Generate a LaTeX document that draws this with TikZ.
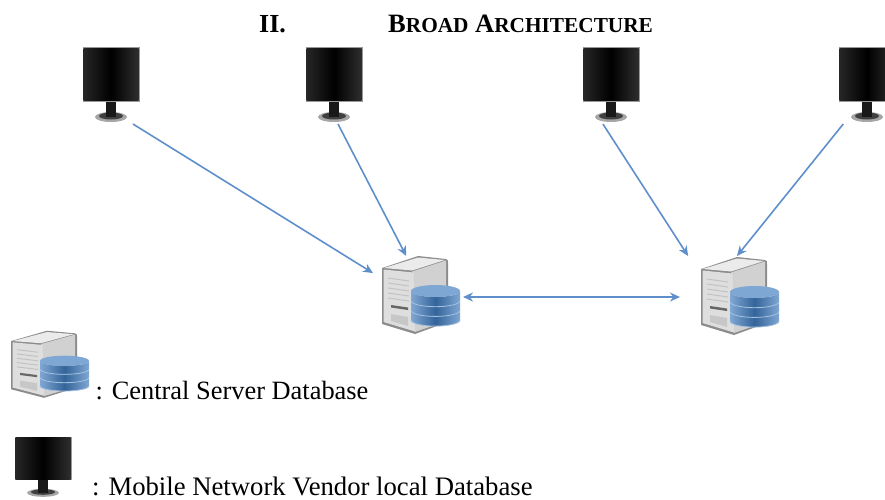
\documentclass[tikz,border=0pt]{standalone}
\usepackage{fontspec}
\setmainfont{Liberation Serif}
\usetikzlibrary{arrows.meta}

\definecolor{linkblue}{HTML}{5E8FCB}
\definecolor{discdark}{HTML}{34649A}
\definecolor{disclight}{HTML}{7FA7D3}

\tikzset{
  vendorbox/.style = {inner sep=0pt, outer sep=0pt, minimum width=56pt, minimum height=76pt},
  serverbox/.style = {inner sep=0pt, outer sep=0pt, minimum height=82pt},
  link/.style = {draw=linkblue, line width=1.6pt, >={Stealth[length=10pt,width=9pt]}},
  legendtext/.style = {anchor=base west, inner sep=0pt, font=\fontsize{26.4}{26.4}\selectfont},
  monitor/.pic = {
    % foot and neck
    \fill[black!35] (-16,31) arc (180:0:16 and 5) arc (0:-180:16 and 5);
    \fill[black!75] (-12,30) arc (180:0:12 and 3.5) arc (0:-180:12 and 3.5);
    \fill[black!90] (-5,15) rectangle (5,31);
    % screen
    \fill[black!40] (-28.5,-39) rectangle (28.5,15.5);
    \shade[left color=black!85, right color=black!82, middle color=black] (-27.5,-38) rectangle (27.5,14);
  },
  dbserver/.pic = {
    % case
    \fill[black!45] (-36,-29) -- (0,-41) -- (28,-38) .. controls (30,-38) and (30,-36) .. (30,-34)
      -- (30,25) -- (-3,37) -- (-36,27) -- cycle;
    \fill[black!18] (-6,-25.5) -- (28,-36.5) -- (28.5,24) -- (-3,35) -- cycle;
    \fill[black!8] (-34,-29) -- (0,-39.5) -- (27,-37) -- (-6,-26.5) -- cycle;
    \fill[black!13] (-34.5,-27.5) -- (-4.5,-24.5) -- (-3,34.5) -- (-34.5,25) -- cycle;
    % vents and drive slot
    \foreach \v in {-18,-13,-8,-3,2}
      \draw[black!24, line width=1pt] (-30,\v-1) -- (-9,\v+2);
    \fill[black!60] (-27,8) -- (-10,10.5) -- (-10,13) -- (-27,10.5) -- cycle;
    \fill[black!22] (-27,17) -- (-10,20) -- (-10,29) -- (-27,24) -- cycle;
    % three discs
    \foreach \d in {13.4,3.7,-6}{
      \shade[left color=disclight, right color=disclight, middle color=discdark]
        (-7,\d) arc (180:0:24.5 and 6) -- (42,\d+9.7) arc (0:180:24.5 and 6) -- cycle;
      \draw[disclight!70!white, line width=.8pt] (-7,\d+9.7) arc (180:0:24.5 and 6);
    }
    \fill[disclight] (17.5,-6) ellipse (24.5 and 6);
  },
}

\begin{document}
\begin{tikzpicture}[x=1pt,y=-1pt]
  \useasboundingbox (0,0) rectangle (885,499);
  \clip (0,0) rectangle (885,499);

  \node[anchor=base west, inner sep=0pt, font=\fontsize{26}{26}\selectfont\bfseries] (secnum) at (259,32) {II.};
  \node[anchor=base west, inner sep=0pt, font=\fontsize{26.5}{26.5}\selectfont\bfseries] (sectitle) at (388,32)
    {B{\fontsize{21.3}{21.3}\selectfont ROAD} A{\fontsize{21.3}{21.3}\selectfont RCHITECTURE}};

  \foreach \n/\x in {1/111,2/334,3/611,4/867}{
    \node[vendorbox] (mon\n) at (\x,86) {};
    \pic at (mon\n) {monitor};
  }

  \node[serverbox, minimum width=90pt] (srvA) at (418,297) {};
  \node[serverbox, minimum width=114pt] (srvB) at (737,297) {};
  \pic at (srvA) {dbserver};
  \pic at ([yshift=-1pt]srvB) {dbserver};

  \draw[link,->] (mon1.-60) -- (srvA.152);
  \draw[link,->] (mon2.-84) -- (srvA.106);
  \draw[link,->] (mon3.-102) -- (srvB.140);
  \draw[link,->] (mon4.-122) -- (srvB.north);
  \draw[link,<->] (srvA.east) -- (srvB.west);

  % legend
  \node[serverbox, minimum width=78pt, minimum height=66pt] (keysrv) at (51,365) {};
  \pic[yscale=.86] at (47,366) {dbserver};
  \node[legendtext] (keysrvtext) at (95.5,399) {: Central Server Database};

  \node[vendorbox, minimum height=60pt] (keymon) at (43,468) {};
  \pic[yscale=.8] at (43,468) {monitor};
  \node[legendtext, font=\fontsize{26.7}{26.7}\selectfont] (keymontext) at (92,495) {: Mobile Network Vendor local Database};
\end{tikzpicture}
\end{document}
